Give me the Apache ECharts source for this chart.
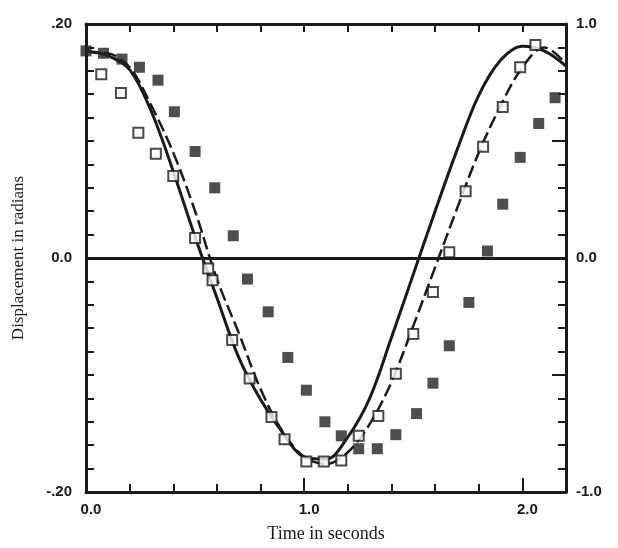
<!DOCTYPE html>
<html>
<head>
<meta charset="utf-8">
<script src="https://cdn.jsdelivr.net/npm/echarts@6/dist/echarts.min.js"></script>
<style>
  html, body { margin: 0; padding: 0; background: #ffffff; }
  #chart { width: 618px; height: 548px; }
</style>
</head>
<body>
<div id="chart"></div>
<script>
// Time base (s) shared by the two fitted curves
const curveTime = [0.0, 0.1, 0.2, 0.3, 0.4, 0.5, 0.6, 0.7, 0.8, 0.9, 1.0, 1.1,
                   1.2, 1.3, 1.4, 1.5, 1.6, 1.7, 1.8, 1.9, 2.0, 2.1, 2.2];
// Solid curve (rad)
const solidValue = [0.177, 0.173, 0.161, 0.125, 0.074, 0.018, -0.034, -0.085, -0.121, -0.149, -0.170, -0.172,
                    -0.153, -0.120, -0.068, -0.014, 0.040, 0.092, 0.139, 0.169, 0.181, 0.177, 0.164];
// Dashed curve (rad)
const dashedValue = [0.176, 0.175, 0.163, 0.130, 0.090, 0.040, -0.018, -0.064, -0.112, -0.148, -0.170, -0.176,
                     -0.166, -0.142, -0.106, -0.058, -0.008, 0.042, 0.090, 0.130, 0.163, 0.180, 0.166];

// Open-square measurements
const openTime  = [0.07, 0.16, 0.24, 0.32, 0.40, 0.50, 0.56, 0.58, 0.67, 0.75, 0.85, 0.91, 1.01,
                   1.09, 1.17, 1.25, 1.34, 1.42, 1.50, 1.59, 1.665, 1.74, 1.82, 1.91, 1.99, 2.06];
const openValue = [0.157, 0.141, 0.107, 0.089, 0.070, 0.017, -0.009, -0.019, -0.070, -0.103, -0.136, -0.155, -0.174,
                   -0.174, -0.173, -0.152, -0.135, -0.099, -0.065, -0.029, 0.005, 0.057, 0.095, 0.129, 0.163, 0.182];

// Filled-square measurements
const filledTime  = [0.0, 0.08, 0.165, 0.245, 0.33, 0.405, 0.50, 0.59, 0.675, 0.74, 0.835, 0.925, 1.01, 1.095,
                     1.17, 1.25, 1.335, 1.42, 1.515, 1.59, 1.665, 1.755, 1.84, 1.91, 1.99, 2.075, 2.15];
const filledValue = [0.177, 0.175, 0.170, 0.163, 0.152, 0.125, 0.091, 0.060, 0.019, -0.018, -0.046, -0.085, -0.113, -0.140,
                     -0.152, -0.163, -0.163, -0.151, -0.133, -0.107, -0.075, -0.038, 0.006, 0.046, 0.086, 0.115, 0.137];

// Labelled ticks
const timeTickLabels = { 0: '0.0', 1: '1.0', 2: '2.0' };
const leftTickLabels = { '0.2': '.20', '0': '0.0', '-0.2': '-.20' };
const rightTickLabels = { '1': '1.0', '0': '0.0', '-1': '-1.0' };

const pair = (xs, ys) => xs.map((x, i) => [x, ys[i]]);
const lookup = (table, v) => {
  for (const k in table) {
    if (Math.abs(Number(k) - v) < 1e-6) return table[k];
  }
  return '';
};

const INK = '#1a1a1a';
const tickFont = { fontFamily: 'Liberation Sans', fontSize: 15, fontWeight: 'bold', color: INK };
const axisLine = { show: true, onZero: false, lineStyle: { color: INK, width: 3 } };
const tickStyle = { show: true, inside: true, length: 8, lineStyle: { color: INK, width: 2 } };
const longTick = { show: true, inside: true, length: 14, lineStyle: { color: INK, width: 2 } };

const chart = echarts.init(document.getElementById('chart'), null, { renderer: 'canvas' });
chart.setOption({
  backgroundColor: '#ffffff',
  animation: false,
  grid: { left: 86, right: 52, top: 24, bottom: 54, containLabel: false },
  xAxis: [
    {
      type: 'value', position: 'bottom', min: 0, max: 2.2, interval: 0.2,
      axisLine, axisTick: tickStyle, splitLine: { show: false },
      axisLabel: Object.assign({ margin: 10, padding: [0, 0, 0, 10],
        formatter: v => lookup(timeTickLabels, v) }, tickFont),
      name: 'Time in seconds', nameLocation: 'middle', nameGap: 33,
      nameTextStyle: { fontFamily: 'Liberation Serif', fontSize: 18, color: INK }
    },
    {
      type: 'value', position: 'top', min: 0, max: 2.2, interval: 0.2,
      axisLine, axisTick: tickStyle, splitLine: { show: false },
      axisLabel: { show: false }
    },
    {
      // longer ticks at whole seconds
      type: 'value', position: 'bottom', min: 0, max: 2.2, interval: 1,
      axisLine: { show: false, onZero: false }, axisTick: longTick,
      splitLine: { show: false }, axisLabel: { show: false }
    }
  ],
  yAxis: [
    {
      type: 'value', position: 'left', min: -0.2, max: 0.2, interval: 0.02,
      axisLine, axisTick: tickStyle, splitLine: { show: false },
      axisLabel: Object.assign({ margin: 14,
        formatter: v => lookup(leftTickLabels, v) }, tickFont),
      name: 'Displacement in radians', nameLocation: 'middle', nameGap: 59, nameRotate: 90,
      nameTextStyle: { fontFamily: 'Liberation Serif', fontSize: 17, color: INK }
    },
    {
      type: 'value', position: 'right', min: -1, max: 1, interval: 0.1,
      axisLine, axisTick: tickStyle, splitLine: { show: false },
      axisLabel: Object.assign({ margin: 10,
        formatter: v => lookup(rightTickLabels, v) }, tickFont)
    },
    {
      // longer ticks at half units on the right scale
      type: 'value', position: 'right', min: -1, max: 1, interval: 0.5,
      axisLine: { show: false, onZero: false }, axisTick: longTick,
      splitLine: { show: false }, axisLabel: { show: false }
    }
  ],
  series: [
    {
      type: 'line', name: 'solid', xAxisIndex: 0, yAxisIndex: 0,
      data: pair(curveTime, solidValue), smooth: 0.35, symbol: 'none',
      lineStyle: { color: INK, width: 3 },
      markLine: {
        silent: true, symbol: 'none', label: { show: false },
        lineStyle: { color: INK, width: 3, type: 'solid' },
        data: [{ yAxis: 0 }]
      },
      z: 3
    },
    {
      type: 'line', name: 'dashed', xAxisIndex: 0, yAxisIndex: 0,
      data: pair(curveTime, dashedValue), smooth: 0.35, symbol: 'none',
      lineStyle: { color: INK, width: 2.5, type: [13, 5] },
      z: 3
    },
    {
      type: 'scatter', name: 'open', xAxisIndex: 0, yAxisIndex: 0,
      data: pair(openTime, openValue), symbol: 'rect', symbolSize: 10,
      itemStyle: { color: '#ffffff', borderColor: INK, borderWidth: 2 },
      z: 4
    },
    {
      type: 'scatter', name: 'filled', xAxisIndex: 0, yAxisIndex: 0,
      data: pair(filledTime, filledValue), symbol: 'rect', symbolSize: 11,
      itemStyle: { color: '#222222' },
      z: 4
    }
  ]
});
</script>
</body>
</html>
